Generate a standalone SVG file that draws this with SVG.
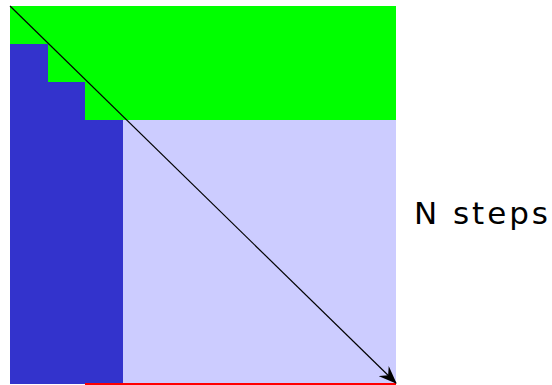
<svg xmlns="http://www.w3.org/2000/svg" width="552" height="385" viewBox="0 0 552 385">
<style>
.lbl{font-family:"DejaVu Sans","Open Sans",sans-serif;font-size:31px;fill:#000}
</style>
<defs>
<marker id="ah" markerWidth="18" markerHeight="14" refX="17" refY="7" orient="auto" markerUnits="userSpaceOnUse">
<path d="M0,0 L18,7 L0,14 L6,7 Z" fill="#000"/>
</marker>
</defs>
<rect width="552" height="385" fill="#fff"/>
<g id="regions">
<rect id="green" x="10" y="6" width="386" height="114" fill="#00ff00"/>
<rect id="lavender" x="123" y="120" width="273" height="264" fill="#ccccff"/>
<path id="blue" d="M10,44 H48 V82 H85 V120 H123 V384 H10 Z" fill="#3333cc"/>
<line id="redline" x1="85" y1="384" x2="396" y2="384" stroke="#ff0000" stroke-width="2"/>
</g>
<g id="connectors">
<line x1="10" y1="6" x2="396" y2="383" stroke="#000" stroke-width="1.2" marker-end="url(#ah)"/>
</g>
<g id="label">
<text class="lbl" x="414" y="224" textLength="134" lengthAdjust="spacing">N steps</text>
</g>
</svg>
